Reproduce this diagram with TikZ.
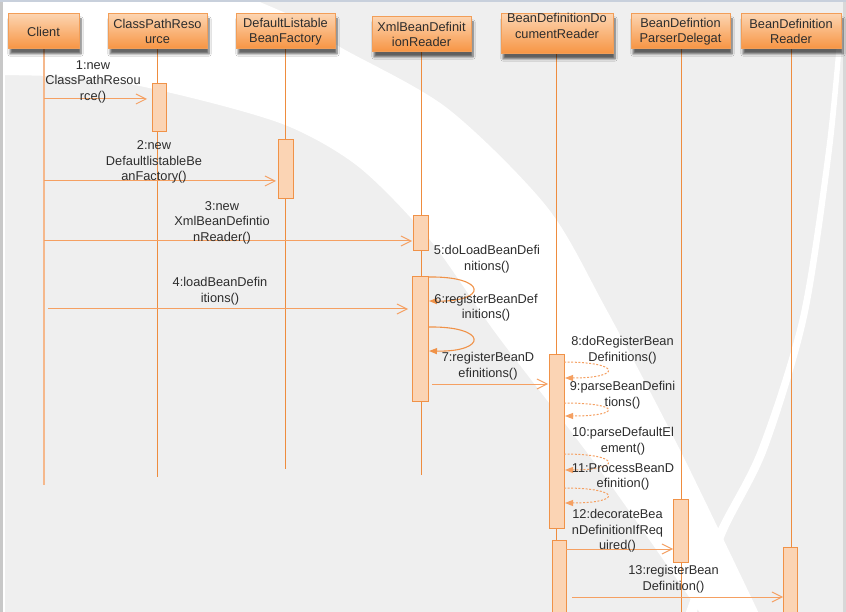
\documentclass[tikz,border=0pt]{standalone}
\usepackage{fontspec}
\setmainfont{Liberation Sans}
\usetikzlibrary{arrows.meta,shadows.blur}

\definecolor{bgG}{RGB}{239,239,239}
\definecolor{orLine}{RGB}{240,146,72}
\definecolor{orLife}{RGB}{238,140,62}
\definecolor{orLight}{RGB}{245,184,140}
\definecolor{orArrow}{RGB}{245,160,98}
\definecolor{actFill}{RGB}{251,212,180}
\definecolor{hdTop}{RGB}{252,212,176}
\definecolor{hdBot}{RGB}{247,148,66}
\definecolor{hdBorder}{RGB}{242,158,88}
\definecolor{txt}{RGB}{45,45,45}
\definecolor{edgeG}{RGB}{200,200,200}
\definecolor{topEdge}{RGB}{200,208,220}

\newcommand{\dfont}{\fontsize{12.8}{15.5}\selectfont}

\tikzset{
  hdr/.style={draw=hdBorder, line width=1pt, top color=hdTop, bottom color=hdBot,
    inner sep=0pt, align=center, text=txt, font=\dfont,
    blur shadow={shadow xshift=2pt, shadow yshift=-5pt, shadow blur steps=6, shadow opacity=60}},
  hdrtext/.style={inner sep=0pt, align=center, text=txt, font=\dfont},
  lifeline/.style={draw=orLife, line width=1.3pt},
  lifelineC/.style={draw=orLight, line width=2.2pt},
  act/.style={draw=orLine, fill=actFill, line width=1pt, inner sep=0pt},
  msg/.style={draw=orArrow, line width=1pt, -{Straight Barb[length=10pt,width=10pt]}},
  selfloop/.style={draw=orLine, line width=1.1pt, -{Triangle[length=8pt,width=6pt]}},
  dloop/.style={draw=orArrow, line width=1pt, dash pattern=on 2pt off 1.6pt, -{Triangle[length=8pt,width=6pt]}},
  lbl/.style={inner sep=0pt, align=center, text=txt, font=\dfont}
}

\begin{document}
\begin{tikzpicture}[x=1pt,y=-1pt]
% ---------- background ----------
\useasboundingbox (0,0) rectangle (846,612);
\fill[bgG] (0,0) rectangle (846,612);
\fill[white] (0,-2) -- (250,-2) -- plot[smooth] coordinates {(250,-2) (300,20) (340,47) (447,108) (547,207) (605,307) (680,450) (762,620)}
  -- plot[smooth] coordinates {(705,620) (600,470) (497,335) (430,240) (360,168) (290,127) (200,100) (100,79) (0,75)} -- cycle;
\fill[white] plot[smooth] coordinates {(838,30) (826,150) (800,317) (758,450) (716,533) (683,620)}
  -- plot[smooth] coordinates {(694,620) (726,533) (767,450) (807,317) (832,150) (843,30)} -- cycle;
\fill[edgeG] (0,0) rectangle (3,612);
\fill[white] (3,0) rectangle (4.5,612);
\fill[edgeG!70] (843,0) rectangle (846,612);
\fill[topEdge] (0,0) rectangle (846,1.6);

% ---------- lifeline end points ----------
\coordinate (clientTop) at (44,49.5);
\coordinate (clientEnd) at (44,485);
\coordinate (cprTop) at (157.5,49.5);
\coordinate (cprEnd) at (157.5,477);
\coordinate (dlbfTop) at (285.5,49.5);
\coordinate (dlbfEnd) at (285.5,469);
\coordinate (xbdrTop) at (421.5,52.5);
\coordinate (xbdrEnd) at (421.5,475);
\coordinate (bddrTop) at (556.5,54.5);
\coordinate (bddrEnd) at (556.5,614);
\coordinate (bdpdTop) at (681.5,49.5);
\coordinate (bdpdEnd) at (681.5,614);
\coordinate (bdrTop) at (791.5,49.5);
\coordinate (bdrEnd) at (791.5,614);
\draw[lifelineC] (clientTop) -- (clientEnd);
\draw[lifeline] (cprTop) -- (cprEnd);
\draw[lifeline] (dlbfTop) -- (dlbfEnd);
\draw[lifeline] (xbdrTop) -- (xbdrEnd);
\draw[lifeline] (bddrTop) -- (bddrEnd);
\draw[lifeline] (bdpdTop) -- (bdpdEnd);
\draw[lifeline] (bdrTop) -- (bdrEnd);

% ---------- headers ----------
\node[hdr, minimum width=71pt, minimum height=35pt] (client) at (43.5,31.5) {Client};
\node[hdr, minimum width=99pt, minimum height=35pt] (cpr) at (157.5,31.5) {ClassPathReso\\urce};
\node[hdr, minimum width=99pt, minimum height=35pt] (dlbf) at (285.5,31.5) {DefaultListable\\BeanFactory};
\node[hdr, minimum width=99pt, minimum height=35pt] (xbdr) at (421.5,34.5) {XmlBeanDefinit\\ionReader};
\node[hdr, minimum width=112pt, minimum height=40pt] (bddr) at (557,34) {};
\node[hdrtext] (bddrt) at (557,26) {BeanDefinitionDo\\cumentReader};
\node[hdr, minimum width=99pt, minimum height=35pt] (bdpd) at (680.5,31.5) {BeanDefintion\\ParserDelegat};
\node[hdr, minimum width=100pt, minimum height=35pt] (bdr) at (791,31.5) {BeanDefinition\\Reader};

% ---------- activations ----------
\node[act, minimum width=14pt, minimum height=48pt] (a1) at (159,108) {};
\node[act, minimum width=15pt, minimum height=59pt] (a2) at (285.5,169.5) {};
\node[act, minimum width=15pt, minimum height=35pt] (a3) at (420.5,233.5) {};
\node[act, minimum width=16pt, minimum height=124pt] (a4) at (420,339) {};
\node[act, minimum width=15pt, minimum height=174pt] (a5) at (556.5,441) {};
\node[act, minimum width=14pt, minimum height=76pt] (a6) at (559,578) {};
\node[act, minimum width=15pt, minimum height=63pt] (a7) at (680.5,530.5) {};
\node[act, minimum width=14pt, minimum height=69pt] (a8) at (790,581.5) {};

% ---------- messages ----------
\coordinate (m1a) at (44,99);   \coordinate (m1b) at (147,99);
\coordinate (m2a) at (44,181);  \coordinate (m2b) at (276,181);
\coordinate (m3a) at (44,241);  \coordinate (m3b) at (412,241);
\coordinate (m4a) at (48,309);  \coordinate (m4b) at (408,309);
\coordinate (m7a) at (432,384); \coordinate (m7b) at (548,384);
\coordinate (m12a) at (566,549); \coordinate (m12b) at (673,549);
\coordinate (m13a) at (572,597); \coordinate (m13b) at (783,597);
\draw[msg] (m1a) -- (m1b);
\draw[msg] (m2a) -- (m2b);
\draw[msg] (m3a) -- (m3b);
\draw[msg] (m4a) -- (m4b);
\draw[msg] (m7a) -- (m7b);
\draw[msg] (m12a) -- (m12b);
\draw[msg] (m13a) -- (m13b);

% self calls on XmlBeanDefinitionReader
\coordinate (s6a) at (428,277); \coordinate (s6b) at (429,301);
\coordinate (s7a) at (428,327); \coordinate (s7b) at (429,351);
\draw[selfloop] (s6a) .. controls (488,276) and (488,302) .. (s6b);
\draw[selfloop] (s7a) .. controls (488,326) and (488,352) .. (s7b);

% self calls on BeanDefinitionDocumentReader
\coordinate (s8a) at (564,362);  \coordinate (s8b) at (565,378);
\coordinate (s9a) at (564,403);  \coordinate (s9b) at (565,416);
\coordinate (s10a) at (564,454); \coordinate (s10b) at (565,470);
\coordinate (s11a) at (564,488); \coordinate (s11b) at (565,503);
\draw[dloop] (s8a) .. controls (622,362) and (622,378) .. (s8b);
\draw[dloop] (s9a) .. controls (622,403) and (622,416) .. (s9b);
\draw[dloop] (s10a) .. controls (622,454) and (622,470) .. (s10b);
\draw[dloop] (s11a) .. controls (622,488) and (622,503) .. (s11b);

% ---------- labels ----------
\node[lbl] (l1) at (93,81.5) {1:new\\ClassPathResou\\rce()};
\node[lbl] (l2) at (154,162) {2:new\\DefaultlistableBe\\anFactory()};
\node[lbl] (l3) at (222,222.5) {3:new\\XmlBeanDefintio\\nReader()};
\node[lbl] (l4) at (220,291) {4:loadBeanDefin\\itions()};
\node[lbl] (l5) at (487,259) {5:doLoadBeanDefi\\nitions()};
\node[lbl] (l6) at (486,307.5) {6:registerBeanDef\\initions()};
\node[lbl] (l7) at (488,366) {7:registerBeanD\\efinitions()};
\node[lbl] (l8) at (622.5,350) {8:doRegisterBean\\Definitions()};
\node[lbl] (l9) at (622.5,395) {9:parseBeanDefini\\tions()};
\node[lbl] (l10) at (623,441) {10:parseDefaultEl\\ement()};
\node[lbl] (l11) at (623,477) {11:ProcessBeanD\\efinition()};
\node[lbl] (l12) at (617.5,531) {12:decorateBea\\nDefinitionIfReq\\uired()};
\node[lbl] (l13) at (673.5,579) {13:registerBean\\Definition()};
\end{tikzpicture}
\end{document}
